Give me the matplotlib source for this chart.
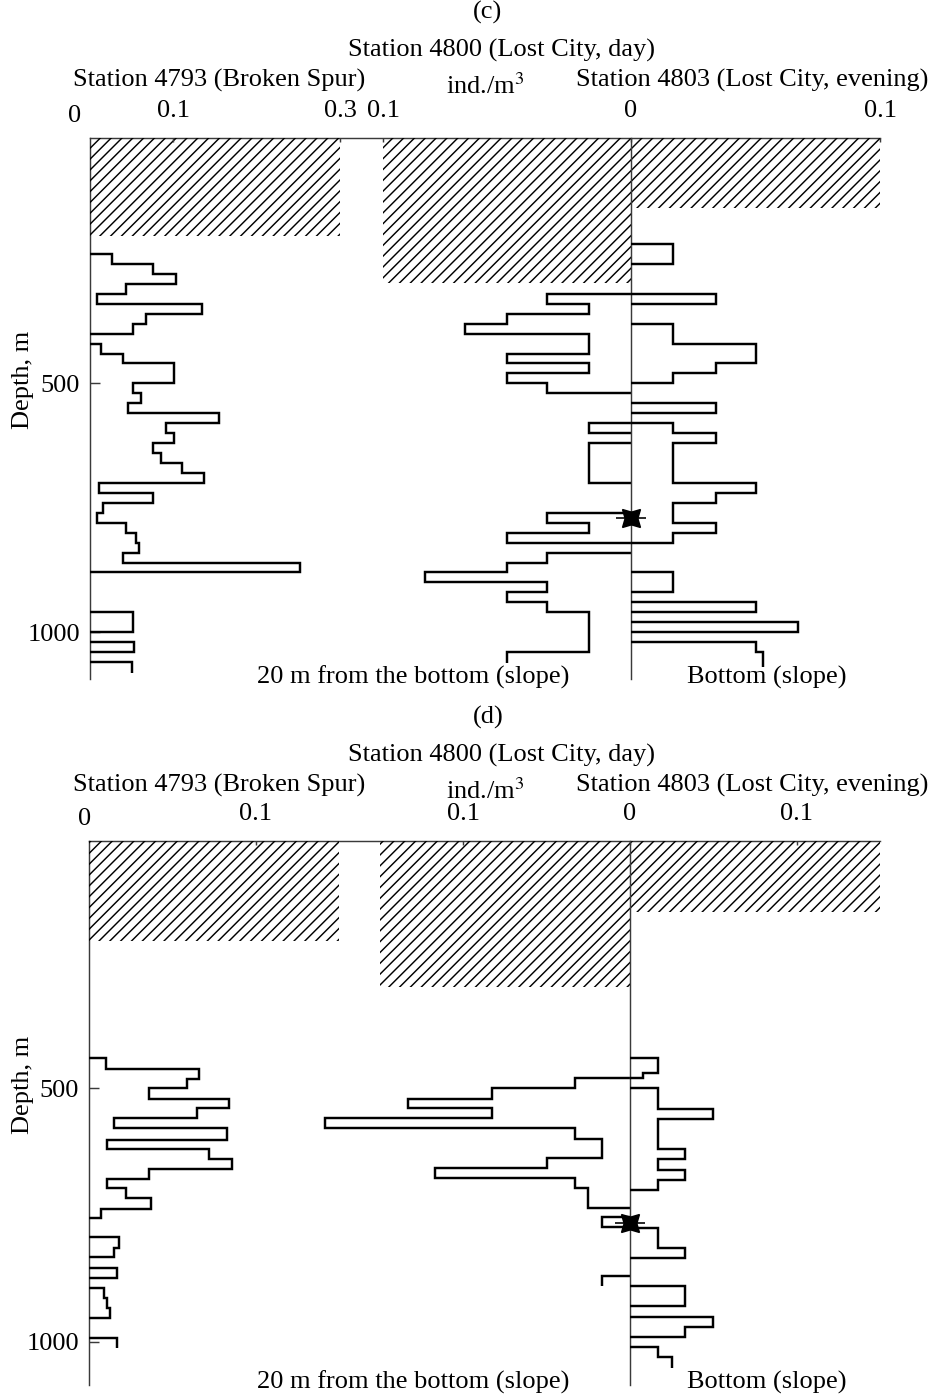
import numpy as np
import matplotlib
matplotlib.use("Agg")
import matplotlib.pyplot as plt

plt.rcParams["font.family"] = ["Liberation Serif", "DejaVu Serif"]
plt.rcParams["mathtext.fontset"] = "stix"
plt.rcParams["hatch.linewidth"] = 0.8

W, H, DPI = 937, 1399, 130
FS = 14.6
LW_STEP = 1.35
LW_AXIS = 0.8
AXIS_COLOR = "#3a3a3a"
nan = np.nan

# ---------------- panel (c) ----------------
C_DEPTH_RANGE = (1094, 7)
C_HATCH_DEPTH = [204, 298, 148]          # 4793, 4800, 4803 unsampled layer
C_STAR_DEPTH = 770

C_4793_EDGES = [240, 260, 280, 300, 320, 340, 360, 380, 400, 420, 440, 460, 500,
                520, 540, 560, 580, 600, 620, 640, 660, 680, 700, 720, 740, 760,
                780, 800, 820, 840, 860, 880, 960, 1000, 1020, 1040, 1060, 1082]
C_4793_VALUES = [0.026, 0.076, 0.103, 0.043, 0.008, 0.134, 0.067, 0.052, nan,
                 0.013, 0.040, 0.101, 0.052, 0.061, 0.046, 0.155, 0.091, 0.101,
                 0.076, 0.085, 0.110, 0.137, 0.011, 0.076, 0.016, 0.008, 0.043,
                 0.055, 0.059, 0.040, 0.252, nan, 0.052, nan, 0.053, nan, 0.050]

C_4800_EDGES = [320, 340, 360, 380, 400, 440, 460, 480, 500, 520, 580, 600, 620,
                700, 760, 780, 800, 820, 840, 860, 880, 900, 920, 940, 960, 1040, 1062]
C_4800_VALUES = [0.034, 0.017, 0.050, 0.067, 0.017, 0.050, 0.017, 0.050, 0.034,
                 nan, 0.017, nan, 0.017, nan, 0.034, 0.017, 0.050, nan, 0.034,
                 0.050, 0.083, 0.034, 0.050, 0.034, 0.017, 0.050]

C_4803_EDGES = [220, 260, 320, 340, 380, 420, 460, 480, 500, 540, 560, 580, 600,
                620, 700, 720, 740, 780, 800, 820, 880, 920, 940, 960, 980, 1000,
                1020, 1040, 1070]
C_4803_VALUES = [0.017, nan, 0.034, nan, 0.017, 0.050, 0.034, 0.017, nan, 0.034,
                 nan, 0.017, 0.034, 0.017, 0.050, 0.034, 0.017, 0.034, 0.017, nan,
                 0.017, nan, 0.050, nan, 0.067, nan, 0.050, 0.053]

# ---------------- panel (d) ----------------
D_DEPTH_RANGE = (1085, 12)
D_HATCH_DEPTH = [210, 300, 152]
D_STAR_DEPTH = 765

D_4793_EDGES = [441, 462, 482, 500, 520, 539, 559, 579, 601, 620, 639, 658, 678,
                697, 717, 737, 755, 794, 814, 833, 854, 874, 893, 913, 933, 953,
                992, 1012]
D_4793_VALUES = [0.010, 0.066, 0.059, 0.036, 0.084, 0.065, 0.015, 0.083, 0.011,
                 0.072, 0.086, 0.036, 0.011, 0.022, 0.037, 0.0074, nan, 0.018,
                 0.015, nan, 0.017, nan, 0.0087, 0.011, 0.0127, nan, 0.017]

D_4800_EDGES = [479, 499, 520, 539, 559, 579, 599, 637, 656, 676, 696, 735, 753,
                773, 870, 889]
D_4800_VALUES = [0.033, 0.083, 0.133, 0.083, 0.183, 0.033, 0.017, 0.050, 0.117,
                 0.033, 0.025, nan, 0.017, nan, 0.017]

D_4803_EDGES = [440, 470, 480, 500, 540, 560, 620, 640, 660, 680, 700, 775, 815,
                835, 890, 930, 950, 970, 990, 1010, 1030, 1052]
D_4803_VALUES = [0.017, 0.008, nan, 0.017, 0.050, 0.017, 0.033, 0.017, 0.033,
                 0.017, nan, 0.017, 0.033, nan, 0.033, nan, 0.050, 0.033, nan,
                 0.017, 0.025]

DEPTH_TICKS = [500, 1000]
STATION_TITLES = ["Station 4793 (Broken Spur)", "Station 4800 (Lost City, day)",
                  "Station 4803 (Lost City, evening)"]
UNIT_LABEL = "ind./m$^3$"
FOOT_LABELS = ["20 m from the bottom (slope)", "Bottom (slope)"]


def pt(px):
    return px * 72.0 / DPI


def rect(x0, x1, y0, y1):
    return [x0 / W, 1 - y1 / H, (x1 - x0) / W, (y1 - y0) / H]


def draw_profile(ax, edges, values, open_end=True):
    edges = np.asarray(edges, float)
    values = np.asarray(values, float)
    n = len(values)
    i = 0
    while i < n:
        if np.isnan(values[i]):
            i += 1
            continue
        j = i
        while j < n and not np.isnan(values[j]):
            j += 1
        xs, ys = [0.0], [edges[i]]
        for k in range(i, j):
            xs += [values[k], values[k]]
            ys += [edges[k], edges[k + 1]]
        if not (open_end and j == n):
            xs.append(0.0)
            ys.append(edges[j])
        ax.plot(xs, ys, color="black", lw=LW_STEP, clip_on=False,
                solid_joinstyle="miter", solid_capstyle="butt", zorder=3)
        i = j


def sub_axes(fig, box, ylim, xlim, ticks, labels):
    ax = fig.add_axes(box)
    ax.set_ylim(*ylim)
    ax.set_xlim(*xlim)
    ax.patch.set_visible(False)
    for s in ax.spines.values():
        s.set_visible(False)
    ax.yaxis.set_visible(False)
    ax.xaxis.tick_top()
    ax.set_xticks(ticks, labels)
    ax.tick_params(axis="x", direction="in", length=pt(4), width=LW_AXIS,
                   color=AXIS_COLOR, pad=pt(16), labelsize=FS, top=True,
                   bottom=False)
    return ax


def hatch_block(ax, depth, x_lo, x_hi):
    ax.fill_betweenx([0, depth], x_lo, x_hi, facecolor="none",
                     edgecolor="black", hatch="////", linewidth=0, zorder=1)


def draw_panel(fig, letter, y0, y1, xs, ylim, xlims, ticks, tick_labels,
               zero_shift, hatch_depth, series, star_depth, text_dy):
    # depth frame: left and top axis lines with depth ticks
    fr = fig.add_axes(rect(xs[0], xs[5], y0, y1))
    fr.set_ylim(*ylim)
    fr.set_xlim(0, 1)
    fr.patch.set_visible(False)
    fr.spines[["right", "bottom"]].set_visible(False)
    for s in ("left", "top"):
        fr.spines[s].set_linewidth(LW_AXIS)
        fr.spines[s].set_color(AXIS_COLOR)
    fr.set_xticks([])
    fr.set_yticks(DEPTH_TICKS)
    fr.tick_params(axis="y", direction="in", length=pt(10), width=LW_AXIS,
                   color=AXIS_COLOR, pad=pt(10), labelsize=FS)

    ax_l = sub_axes(fig, rect(xs[0], xs[1], y0, y1), ylim, xlims[0],
                    ticks[0], tick_labels[0])
    ax_m = sub_axes(fig, rect(xs[2], xs[3], y0, y1), ylim, xlims[1],
                    ticks[1], tick_labels[1])
    ax_r = sub_axes(fig, rect(xs[4], xs[5], y0, y1), ylim, xlims[2],
                    ticks[2], tick_labels[2])
    ax_r.spines["left"].set_visible(True)
    ax_r.spines["left"].set_linewidth(LW_AXIS)
    ax_r.spines["left"].set_color(AXIS_COLOR)

    ax_l.annotate("0", xy=(0, 1), xycoords=("data", "axes fraction"),
                  xytext=(zero_shift, 16), textcoords="offset pixels",
                  ha="center", va="baseline", fontsize=FS)

    for ax, d in zip((ax_l, ax_m, ax_r), hatch_depth):
        lo, hi = sorted(ax.get_xlim())
        hatch_block(ax, d, lo, hi)

    for ax, (edges, vals) in zip((ax_l, ax_m, ax_r), series):
        draw_profile(ax, edges, vals)

    # sampling-depth star on the zero line
    ax_r.plot([0], [star_depth], marker=(4, 1, 45), ms=14, color="black",
              mec="black", mew=0.8, clip_on=False, zorder=5)
    ax_r.plot([0], [star_depth], marker="_", ms=17, color="black",
              mew=0.9, clip_on=False, zorder=5)

    def ftext(x, y, s, **kw):
        fig.text(x / W, 1 - (y + text_dy) / H, s, fontsize=FS,
                 ha="center", va="baseline", **kw)

    ftext(488, 19, letter)
    ftext(502, 57, STATION_TITLES[1])
    ftext(219, 87, STATION_TITLES[0])
    ftext(485, 94, UNIT_LABEL)
    ftext(752, 87, STATION_TITLES[2])
    ftext(413, 684, FOOT_LABELS[0])
    ftext(767, 684, FOOT_LABELS[1])
    fig.text(23 / W, 1 - (380 + text_dy) / H, "Depth, m", fontsize=FS,
             rotation=90, ha="center", va="center")


fig = plt.figure(figsize=(W / DPI, H / DPI), dpi=DPI)

draw_panel(fig, "(c)", 138, 679, [90, 340, 383, 631, 631, 880],
           C_DEPTH_RANGE, [(0, 0.3), (0.1, 0), (0, 0.1)],
           [[0.1, 0.3], [0.1], [0, 0.1]],
           [["0.1", "0.3"], ["0.1"], ["0", "0.1"]],
           -15, C_HATCH_DEPTH,
           [(C_4793_EDGES, C_4793_VALUES), (C_4800_EDGES, C_4800_VALUES),
            (C_4803_EDGES, C_4803_VALUES)],
           C_STAR_DEPTH, 0)

draw_panel(fig, "(d)", 841, 1385, [89, 339, 380, 630, 630, 880],
           D_DEPTH_RANGE, [(0, 0.15), (0.15, 0), (0, 0.15)],
           [[0.1], [0.1], [0, 0.1]],
           [["0.1"], ["0.1"], ["0", "0.1"]],
           -4, D_HATCH_DEPTH,
           [(D_4793_EDGES, D_4793_VALUES), (D_4800_EDGES, D_4800_VALUES),
            (D_4803_EDGES, D_4803_VALUES)],
           D_STAR_DEPTH, 705)

fig.savefig("out.png", dpi=DPI)
